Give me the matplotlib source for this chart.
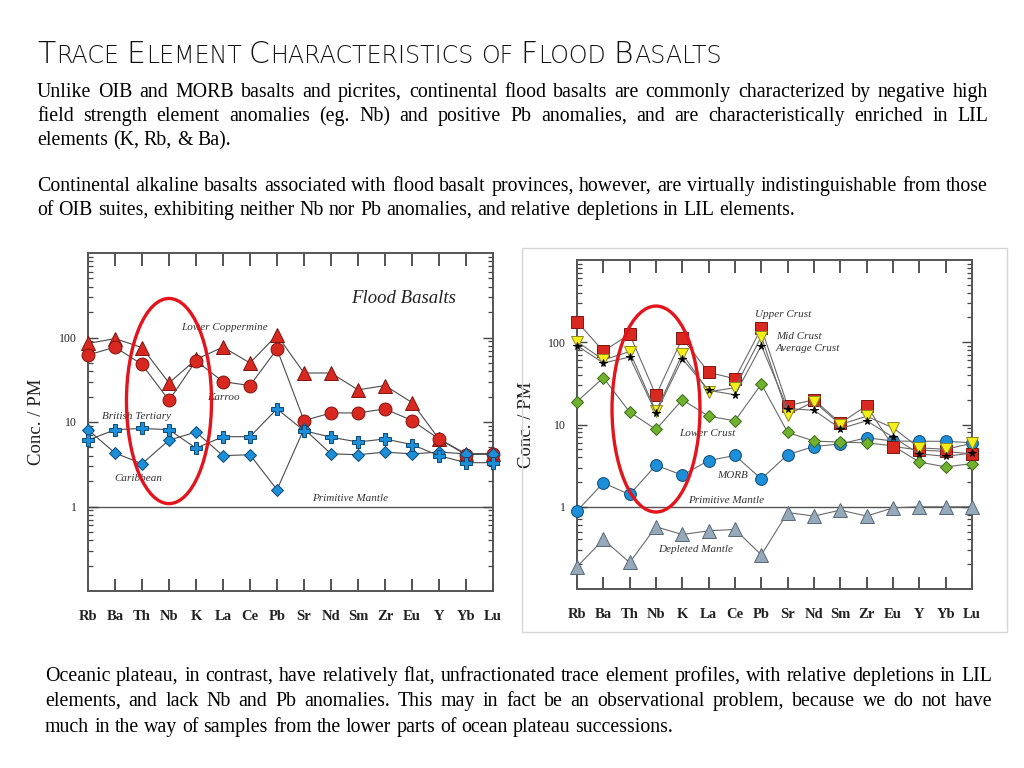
import matplotlib
matplotlib.use("Agg")
import matplotlib.pyplot as plt
import matplotlib.transforms as mtransforms
from matplotlib.patches import Ellipse, Rectangle
from matplotlib.ticker import LogLocator, NullFormatter, FixedLocator
from matplotlib.font_manager import FontProperties
from matplotlib.backends.backend_agg import get_hinting_flag
import numpy as np

elements = ["Rb", "Ba", "Th", "Nb", "K", "La", "Ce", "Pb", "Sr", "Nd",
            "Sm", "Zr", "Eu", "Y", "Yb", "Lu"]

# flood basalts, normalised to primitive mantle
lower_coppermine = [85, 97, 76, 29, 55, 77, 50, 107, 38, 38, 24, 27, 17, 6.3, 4.2, 4.2]
karroo = [62, 77, 48, 18, 53, 30, 27, 73, 10.4, 12.8, 12.8, 14.3, 10.4, 6.3, 4.1, 4.2]
british_tertiary = [6.1, 8.1, 8.4, 8.1, 4.9, 6.7, 6.7, 14.3, 7.9, 6.6, 5.8, 6.3, 5.4, 4.0, 3.3, 3.3]
caribbean = [8.1, 4.3, 3.2, 6.1, 7.6, 4.0, 4.1, 1.58, 8.3, 4.2, 4.1, 4.4, 4.2, 4.4, 4.2, 4.2]

# crust and mantle reservoirs
upper_crust = [178, 78, 125, 22.6, 112, 43, 36, 148, 16.9, 20, 10.4, 16.9, 5.4, 4.9, 4.7, 4.4]
mid_crust = [102, 61, 77, 14.4, 72, 25, 28, 117, 13.2, 19, 10, 12.6, 9.1, 5.2, 5.0, 5.9]
average_crust = [91, 56, 66, 13.8, 63, 26, 23, 91, 15.6, 14.9, 8.9, 11.1, 7.0, 4.4, 4.1, 4.5]
lower_crust = [19, 37, 14.2, 8.7, 20, 12.6, 11.1, 31, 8.0, 6.3, 6.1, 6.0, 5.5, 3.5, 3.05, 3.35]
morb = [0.89, 1.95, 1.41, 3.2, 2.42, 3.65, 4.2, 2.18, 4.3, 5.4, 5.8, 6.9, 6.3, 6.25, 6.25, 6.0]
depleted_mantle = [0.186, 0.40, 0.21, 0.57, 0.46, 0.51, 0.53, 0.26, 0.85, 0.77, 0.91, 0.77,
                   0.97, 1.0, 1.0, 1.0]

title = "Trace Element Characteristics of Flood Basalts"
para1 = ["Unlike OIB and MORB basalts and picrites, continental flood basalts are commonly characterized by negative high",
         "field strength element anomalies (eg. Nb) and positive Pb anomalies, and are characteristically enriched in LIL",
         "elements (K, Rb, & Ba)."]
para2 = ["Continental alkaline basalts associated with flood basalt provinces, however,  are virtually indistinguishable from those",
         "of OIB suites, exhibiting neither Nb nor Pb anomalies, and relative depletions in LIL elements."]
para3 = ["Oceanic plateau, in contrast, have relatively flat, unfractionated trace element profiles, with relative depletions in LIL",
         "elements, and lack Nb and Pb anomalies.  This may in fact be an observational problem, because we do not have",
         "much in the way of samples from the lower parts of ocean plateau successions."]

SERIF = "Liberation Serif"
RED, RED_E = "#d8281f", "#7d1510"
BLUE, BLUE_E = "#1d8fd8", "#0b4a75"
GREEN, GREEN_E = "#70b22f", "#3c6a14"
YELLOW, YELLOW_E = "#f6ee17", "#8c8a1e"
GRAY, GRAY_E = "#95a9b9", "#56687a"
LINE = "#4a4a4a"

W, H = 1024, 768
fig = plt.figure(figsize=(W / 100, H / 100), dpi=100)
renderer = fig.canvas.get_renderer()


def fx(px):
    return px / W


def fy(py):
    return 1 - py / H


def text_width(s, size, **kw):
    t = fig.text(0, 0, s, fontsize=size, **kw)
    w = t.get_window_extent(renderer).width
    t.remove()
    return w


def baseline_fix(s, prop):
    # Agg snaps each text bitmap to whole pixels using the ink descent;
    # shift the baseline so every word lands on the same pixel row
    font = renderer._prepare_font(prop)
    font.set_text(s, 0, flags=get_hinting_flag())
    _, h = font.get_width_height()
    D = font.get_descent()
    a, d = (h - D) / 64, D / 64
    return np.floor(a + d) - np.floor(a) - d


# ---- title in small caps
def title_runs(text):
    runs = []
    for i, word in enumerate(text.split()):
        if i:
            runs.append((" ", "sp"))
        rest = word
        if word[0].isupper():
            runs.append((word[0], "big"))
            rest = word[1:]
        if rest:
            runs.append((rest.upper(), "small"))
    return runs


tkw = dict(family="DejaVu Sans", fontweight="light", color="#111111")


def draw_title(big, x0, base, draw):
    small = big * 0.8
    sp = text_width("A A", small, **tkw) - text_width("AA", small, **tkw)
    x = x0
    for s, kind in title_runs(title):
        if kind == "sp":
            x += sp
            continue
        size = big if kind == "big" else small
        if draw:
            prop = FontProperties(family=tkw["family"], weight=tkw["fontweight"], size=size)
            yb = base + baseline_fix(s, prop)
            fig.text(fx(x), fy(yb), s, fontsize=size, va="baseline", **tkw)
        x += text_width(s, size, **tkw) + 0.6
    return x - x0


tw = draw_title(10, 37, 63, False)
draw_title(10 * 690 / tw, 37, 63, True)

# ---- body text, justified word by word
body_size = 10 * 755 / text_width(para2[1], 10, family=SERIF)
body_prop = FontProperties(family=SERIF, size=body_size)
space_w = text_width("a a", body_size, family=SERIF) - text_width("aa", body_size, family=SERIF)


def put_lines(lines, x0, x1, base0, step):
    for i, line in enumerate(lines):
        words = line.split()
        widths = [text_width(w, body_size, family=SERIF) for w in words]
        last = i == len(lines) - 1
        gap = space_w if last else (x1 - x0 - sum(widths)) / (len(words) - 1)
        base = round(base0 + i * step)
        x = x0
        for w, wd in zip(words, widths):
            yb = base + baseline_fix(w, body_prop)
            fig.text(fx(x), fy(yb), w, fontsize=body_size, family=SERIF,
                     va="baseline", color="black")
            x += wd + gap


put_lines(para1, 37, 988, 97, 24)
put_lines(para2, 37, 988, 191, 24)
put_lines(para3, 45, 992, 681, 25.5)

# ---- axes
ax1 = fig.add_axes([fx(88), fy(591), (493 - 88) / W, (591 - 253) / H])
ax2 = fig.add_axes([fx(577), fy(589), (972 - 577) / W, (589 - 260) / H])

fig.add_artist(Rectangle((fx(522), fy(632)), (1007 - 522) / W, (632 - 248) / H,
                         transform=fig.transFigure, fill=False, ec="#d6d6d6", lw=1))

x = np.arange(len(elements))
shift = mtransforms.ScaledTranslation(3 / 100, 0, fig.dpi_scale_trans)


def setup(ax):
    ax.set_yscale("log")
    ax.set_xlim(0, len(elements) - 1)
    ax.set_ylim(0.1, 1000)
    ax.set_xticks(x)
    ax.set_xticklabels(elements, family=SERIF, fontsize=10.5, fontweight="bold", color="#222222")
    for t in ax.get_xticklabels():
        t.set_transform(t.get_transform() + shift)
    ax.tick_params(axis="x", direction="in", length=9, width=1.3, color="#444444",
                   top=True, bottom=True, pad=13.5)
    ax.yaxis.set_major_locator(FixedLocator([1, 10, 100]))
    ax.set_yticklabels(["1", "10", "100"], family=SERIF, fontsize=8.5, color="#222222")
    ax.yaxis.set_minor_locator(LogLocator(base=10, subs=np.arange(2, 10), numticks=20))
    ax.yaxis.set_minor_formatter(NullFormatter())
    ax.tick_params(axis="y", which="major", direction="in", length=7, width=1,
                   color="#444444", left=True, right=True, pad=8)
    ax.tick_params(axis="y", which="minor", direction="in", length=3.5, width=0.9,
                   color="#444444", left=True, right=True)
    for s in ax.spines.values():
        s.set_color("#555555")
        s.set_linewidth(1.4)
    ax.axhline(1, color="#555555", lw=1, zorder=1)
    ax.set_ylabel("Conc. / PM", family=SERIF, fontsize=13.5, color="#222222")
    ax.yaxis.set_label_coords(-0.106, 0.5)


setup(ax1)
setup(ax2)


def series(ax, y, marker, ms, fc, ec, z, lc=LINE):
    ax.plot(x, y, color=lc, lw=0.8, marker=marker, ms=ms, mfc=fc, mec=ec,
            mew=0.7, zorder=z, clip_on=False)


series(ax1, lower_coppermine, "^", 9.5, RED, RED_E, 3)
series(ax1, karroo, "o", 9.3, RED, RED_E, 4)
series(ax1, caribbean, "D", 6.5, BLUE, BLUE_E, 5)
series(ax1, british_tertiary, "P", 9, BLUE, BLUE_E, 6)

LINE2 = "#6a6a6a"
series(ax2, depleted_mantle, "^", 9.5, GRAY, GRAY_E, 3, LINE2)
series(ax2, morb, "o", 8.5, BLUE, BLUE_E, 4, LINE2)
series(ax2, lower_crust, "D", 6.5, GREEN, GREEN_E, 5, LINE2)
series(ax2, upper_crust, "s", 8, RED, RED_E, 6, LINE2)
series(ax2, mid_crust, "v", 8, YELLOW, YELLOW_E, 7, LINE2)
series(ax2, average_crust, "*", 5.5, "black", "black", 8, LINE2)

lab = dict(family=SERIF, style="italic", color="#333333", fontsize=8, va="center")
ax1.text(11.67, 290, "Flood Basalts", ha="center", **dict(lab, fontsize=13.5, color="#222222"))
ax1.text(5.07, 131, "Lower Coppermine", ha="center", **lab)
ax1.text(5.0, 19.5, "Karroo", ha="center", **lab)
ax1.text(1.81, 11.6, "British Tertiary", ha="center", **lab)
ax1.text(1.85, 2.14, "Caribbean", ha="center", **lab)
ax1.text(9.7, 1.24, "Primitive Mantle", ha="center", **lab)

ax2.text(7.82, 218, "Upper Crust", ha="center", **lab)
ax2.text(7.56, 118, "Mid Crust", ha="left", **lab)
ax2.text(7.56, 85, "Average Crust", ha="left", **lab)
ax2.text(4.94, 7.7, "Lower Crust", ha="center", **lab)
ax2.text(5.92, 2.38, "MORB", ha="center", **lab)
ax2.text(5.66, 1.18, "Primitive Mantle", ha="center", **lab)
ax2.text(4.52, 0.30, "Depleted Mantle", ha="center", **lab)

# red ellipses around the Nb anomaly
for ax, cy, w, h in [(ax1, 0.562, 3.15, 0.607), (ax2, 0.547, 3.34, 0.626)]:
    tr = mtransforms.blended_transform_factory(ax.transData, ax.transAxes)
    ax.add_patch(Ellipse((elements.index("Nb"), cy), w, h, transform=tr, fill=False,
                         ec="#e3141c", lw=2.4, zorder=10, clip_on=False))

fig.savefig("out.png", dpi=100)
